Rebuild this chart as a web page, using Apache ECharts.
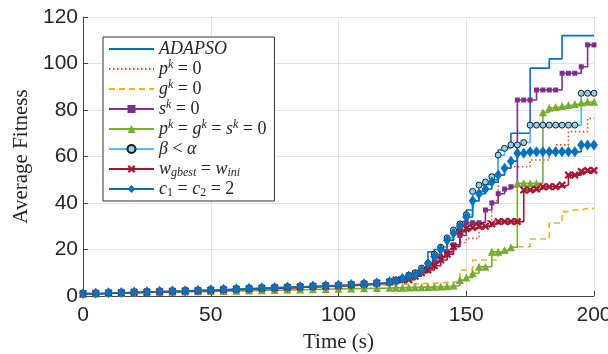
<!DOCTYPE html>
<html><head><meta charset="utf-8">
<script src="https://cdn.jsdelivr.net/npm/echarts@6/dist/echarts.min.js"></script>
<style>html,body{margin:0;padding:0;background:#fff}#c{width:608px;height:354px}</style>
</head><body><div id="c"></div>
<script>
// time stamps (s)
const time = [0,5,10,15,20,25,30,35,40,45,50,55,60,65,70,75,80,85,90,95,100,105,110,115,120,
  122.5,125,127.5,130,132.5,135,137.5,140,142.5,145,147.5,150,152.5,155,157.5,160,162.5,165,167.5,170,
  172.5,175,177.5,180,182.5,185,187.5,190,192.5,195,197.5,200];

const adapso = [1.0,1.2,1.3,1.5,1.6,1.8,1.9,2.0,2.2,2.4,2.6,2.8,3.0,3.2,3.4,3.6,3.8,4.0,4.2,4.4,4.6,5.0,5.3,5.7,6.2,
  6.8,8,9,11,12,19,20,21,24,28,32,37,41,45,48,50,62.8,64,70,70,70,98,98,98,102,102,112,112,112,112,112,112];
const pk0 = [1,1.2,1.3,1.5,1.6,1.8,1.9,2.1,2.2,2.4,2.6,2.8,3,3.2,3.4,3.6,3.8,4,4.2,4.4,4.6,4.9,5.2,5.6,6,
  6.5,7.5,8.5,10,11.5,13.5,16,18,20,22,23,24.8,24.8,32,32.7,41,55.6,55.6,55.6,55.6,55.6,58.5,58.5,58.5,61.4,65,65,70.7,70.7,70.7,76.4,76.4];
const gk0 = [1,1.2,1.3,1.4,1.6,1.7,1.9,2,2.1,2.3,2.5,2.7,2.9,3.1,3.3,3.5,3.7,3.9,4,4.2,4.4,4.5,4.7,4.8,5,
  5,5.1,5.2,5.3,5.4,5.5,5.6,5.8,6,6.1,11.2,11.2,15.5,15.5,15.5,15.5,18.5,19.8,21.2,21.2,21.2,24.5,24.5,24.5,31.4,31.4,36.3,37,37,37.7,37.7,37.7];
const sk0 = [1,1.1,1.3,1.5,1.6,1.8,1.9,2.1,2.3,2.4,2.6,2.8,3,3.2,3.4,3.6,3.8,4,4.2,4.4,4.6,4.9,5.3,5.7,6.1,
  6.5,7.5,8.5,10,11.5,13,15,17,19,22,26,31.5,31.5,31.5,37,40,44,46,47,84.3,84.3,84.3,88.6,88.6,88.6,88.6,95.8,95.8,95.8,98.6,108,108];
const pgs0 = [1,1.2,1.3,1.4,1.5,1.6,1.7,1.8,1.9,2,2.1,2.2,2.3,2.4,2.5,2.6,2.7,2.8,2.9,3,3.1,3.2,3.3,3.4,3.5,
  3.6,3.6,3.7,3.8,3.8,3.9,4,4.1,4.2,4.5,6.9,8,9.8,12.6,12.6,19,19,19.8,21,48.5,48.5,48.5,48.5,79,81,81.3,81.7,82.2,82.6,83.2,83.5,83.5];
const betaLtAlpha = [1.2,1.4,1.5,1.7,1.8,2,2.1,2.3,2.4,2.6,2.8,3,3.2,3.4,3.6,3.8,4,4.2,4.4,4.6,4.8,5.1,5.4,5.8,6.3,
  6.8,7.5,9,10,12,14,18,21,25,28.4,31,35,45,47.7,49,51.3,60.6,63.5,65,65,66,73.5,73.5,73.5,73.5,73.5,73.5,73.5,73.5,87.2,87.2,87.2];
const wgbest = [1,1.1,1.3,1.4,1.6,1.7,1.9,2,2.2,2.3,2.5,2.7,2.9,3.1,3.3,3.5,3.7,3.9,4.1,4.3,4.5,4.8,5.1,5.5,6,
  6.9,6.9,7,8.5,10,11.2,13,15.5,18,21.2,27.7,29,29.5,30,30,31,32,32,32,32,45.6,45.6,46,47,47,47,47.7,52,52,53.5,54,54];
const c12 = [1.1,1.2,1.4,1.5,1.7,1.8,2,2.1,2.3,2.5,2.7,2.9,3.1,3.3,3.5,3.7,3.9,4.1,4.3,4.5,4.7,5,5.3,5.6,6.1,
  6.5,7.5,8.5,9,11,14,17,20,24,27,30,34,41,44,46,49,52,55,58,61.4,61.4,62,62,62,62,62,62,62,62,65,65,65];

const xTicks = [0,50,100,150,200];
const yTicks = [0,20,40,60,80,100,120];

const names = ['ADAPSO','p0','g0','s0','pgs0','beta','wg','c12'];
const legendLabels = [
  '{it|ADAPSO}',
  '{it|p}{sup|k}{n| = 0}',
  '{it|g}{sup|k}{n| = 0}',
  '{it|s}{sup|k}{n| = 0}',
  '{it|p}{sup|k}{n| = }{it|g}{sup|k}{n| = }{it|s}{sup|k}{n| = 0}',
  '{it|β}{n| < }{it|α}',
  '{it|w}{sub|gbest}{n| = }{it|w}{sub|ini}',
  '{it|c}{subn|1}{n| = }{it|c}{subn|2}{n| = 2}'
];
const noMarker = {color: 'rgba(0,0,0,0)', borderWidth: 0, opacity: 0};

function pairs(v){ return time.map((t,i)=>[t, v[i]]); }
const xPath = 'path://M2,0L5,3L8,0L10,2L7,5L10,8L8,10L5,7L2,10L0,8L3,5L0,2Z';

function mk(name, vals, color, extra){
  return Object.assign({
    name: name, type: 'line', step: 'end', data: pairs(vals),
    color: color, showSymbol: true, showAllSymbol: true,
    lineStyle: {width: 1.6, color: color},
    itemStyle: {color: color},
    emphasis: {disabled: true}, z: 2
  }, extra);
}

const chart = echarts.init(document.getElementById('c'), null, {renderer: 'canvas'});
chart.setOption({
  animation: false,
  backgroundColor: '#fff',
  grid: {left: 83, right: 14, top: 17, bottom: 58, containLabel: false, outerBoundsMode: 'none'},
  xAxis: {
    type: 'value', min: 0, max: 200, interval: 50,
    name: 'Time (s)', nameLocation: 'middle', nameGap: 36,
    nameTextStyle: {fontFamily: 'Liberation Serif', fontSize: 21, color: '#262626'},
    axisLine: {show: true, lineStyle: {color: '#444', width: 1}},
    axisTick: {show: true, inside: true, length: 5, lineStyle: {color: '#444'}},
    axisLabel: {margin: 9, fontFamily: 'Liberation Sans', fontSize: 21, color: '#262626',
      customValues: xTicks},
    splitLine: {show: true, lineStyle: {color: '#e3e3e3', width: 1}}
  },
  yAxis: {
    type: 'value', min: 0, max: 120, interval: 20,
    name: 'Average Fitness', nameLocation: 'middle', nameGap: 50,
    nameTextStyle: {fontFamily: 'Liberation Serif', fontSize: 21, color: '#262626'},
    axisLine: {show: true, lineStyle: {color: '#444', width: 1}},
    axisTick: {show: true, inside: true, length: 5, lineStyle: {color: '#444'}},
    axisLabel: {margin: 5, fontFamily: 'Liberation Sans', fontSize: 21, color: '#262626',
      customValues: yTicks},
    splitLine: {show: true, lineStyle: {color: '#e3e3e3', width: 1}}
  },
  legend: {
    orient: 'vertical', left: 103, top: 37,
    padding: [2, 8, 2, 5], itemGap: 0, itemWidth: 45, itemHeight: 10,
    backgroundColor: '#fff', borderColor: '#333', borderWidth: 1,
    selectedMode: false,
    data: names.map((n, i) => i < 3 ? {name: n, itemStyle: noMarker} : {name: n}),
    formatter: function(n){ return legendLabels[names.indexOf(n)]; },
    textStyle: {
      fontFamily: 'Liberation Serif', fontSize: 18, color: '#262626', lineHeight: 20,
      rich: {
        it: {fontFamily: 'Liberation Serif', fontStyle: 'italic', fontSize: 18, lineHeight: 20, color: '#262626'},
        n: {fontFamily: 'Liberation Serif', fontSize: 18, lineHeight: 20, color: '#262626'},
        sup: {fontFamily: 'Liberation Serif', fontStyle: 'italic', fontSize: 12, lineHeight: 14, verticalAlign: 'top', color: '#262626'},
        sub: {fontFamily: 'Liberation Serif', fontStyle: 'italic', fontSize: 12, lineHeight: 13, verticalAlign: 'bottom', color: '#262626'},
        subn: {fontFamily: 'Liberation Serif', fontSize: 12, lineHeight: 13, verticalAlign: 'bottom', color: '#262626'}
      }
    }
  },
  series: [
    mk('ADAPSO', adapso, '#0072BD', {symbol: 'none'}),
    mk('p0', pk0, '#D95319', {symbol: 'none', lineStyle: {width: 1.6, color: '#D95319', type: [1.5, 2.5]}}),
    mk('g0', gk0, '#EDB120', {symbol: 'none', lineStyle: {width: 1.6, color: '#EDB120', type: [6, 4]}}),
    mk('s0', sk0, '#7E2F8E', {symbol: 'rect', symbolSize: 5}),
    mk('pgs0', pgs0, '#77AC30', {symbol: 'triangle', symbolSize: 8}),
    mk('beta', betaLtAlpha, '#4DBEEE', {symbol: 'circle', symbolSize: 6,
      itemStyle: {color: '#8fd3f0', borderColor: '#1a1a1a', borderWidth: 1}}),
    mk('wg', wgbest, '#A2142F', {symbol: xPath, symbolSize: 8}),
    mk('c12', c12, '#0072BD', {symbol: 'diamond', symbolSize: [8, 11]})
  ]
});
</script></body></html>
